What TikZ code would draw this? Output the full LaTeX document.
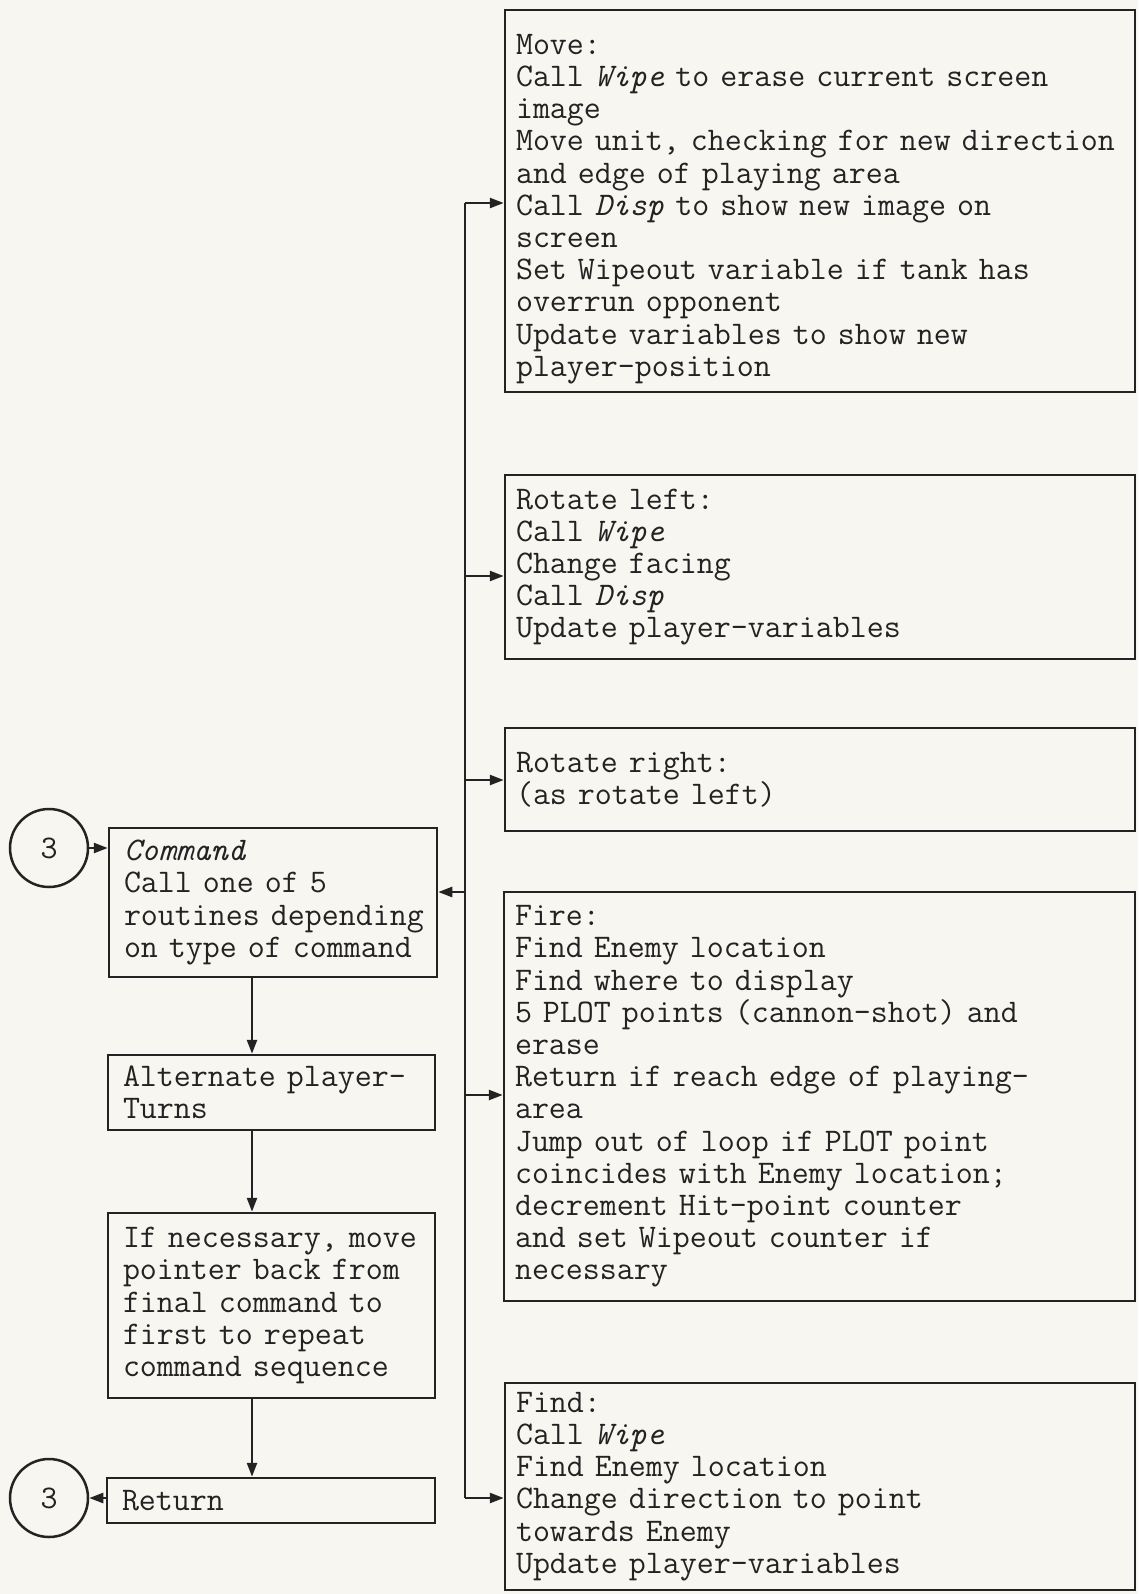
\documentclass[tikz,border=0pt]{standalone}
\usepackage{fontspec}
\usetikzlibrary{arrows.meta}
\definecolor{paper}{RGB}{248,246,240}
\definecolor{ink}{RGB}{35,35,35}
\newcommand\twfont{\ttfamily\fontsize{33}{32.2}\selectfont\addfontfeatures{FakeBold=0.5}}
\begin{document}
\begin{tikzpicture}[x=1pt,y=-1pt,
  box/.style={draw=ink, line width=2.5pt, rectangle, align=left, font=\twfont, text=ink, inner ysep=0pt, inner xsep=2pt},
  rbox/.style={box, execute at begin node={\leftskip=9pt\relax}},
  lbox/.style={box, execute at begin node={\leftskip=13pt\relax}},
  conn/.style={circle, draw=ink, line width=2.5pt, minimum size=78pt, inner sep=0pt, font=\twfont, text=ink},
  line/.style={draw=ink, line width=2.5pt},
  arr/.style={line, -{Triangle[length=14pt,width=10pt]}}]
\path[use as bounding box, fill=paper] (0,0) rectangle (1138,1594);

% right column
\node[rbox, minimum width=630pt, minimum height=382pt, text width=626pt] (move) at (820,201) {\rule{0pt}{36pt}Move:\\
Call \textit{Wipe} to erase current screen\\
image\\
Move unit, checking for new direction\\
and edge of playing area\\
Call \textit{Disp} to show new image on\\
screen\\
Set Wipeout variable if tank has\\
overrun opponent\\
Update variables to show new\\
player-position};

\node[rbox, minimum width=630pt, minimum height=184pt, text width=626pt] (rotl) at (820,567) {Rotate left:\\
Call \textit{Wipe}\\
Change facing\\
Call \textit{Disp}\\
Update player-variables};

\node[rbox, minimum width=630pt, minimum height=103pt, text width=626pt] (rotr) at (820,779.5) {Rotate right:\\
(as rotate left)};

\node[rbox, minimum width=631pt, minimum height=409pt, text width=627pt] (fire) at (819.5,1096.5) {Fire:\\
Find Enemy location\\
Find where to display\\
5 PLOT points (cannon-shot) and\\
erase\\
Return if reach edge of playing-\\
area\\
Jump out of loop if PLOT point\\
coincides with Enemy location;\\
decrement Hit-point counter\\
and set Wipeout counter if\\
necessary};

\node[rbox, minimum width=630pt, minimum height=207pt, text width=626pt] (find) at (820,1486.5) {Find:\\
Call \textit{Wipe}\\
Find Enemy location\\
Change direction to point\\
towards Enemy\\
Update player-variables};

% left column
\node[lbox, minimum width=328pt, minimum height=149pt, text width=324pt] (cmd) at (273,902.5) {\textit{Command}\\
Call one of 5\\
routines depending\\
on type of command};

\node[lbox, minimum width=327pt, minimum height=75pt, text width=323pt] (alt) at (271.5,1092.5) {Alternate player-\\
Turns};

\node[lbox, minimum width=327pt, minimum height=185pt, text width=323pt] (ifn) at (271.5,1305.5) {If necessary, move\\
pointer back from\\
final command to\\
first to repeat\\
command sequence};

\node[lbox, minimum width=328pt, minimum height=45pt, text width=324pt] (ret) at (271,1500.5) {Return};

\node[conn] (c1) at (49,848) {3};
\node[conn] (c2) at (49,1498) {3};

% connectors, left column
\coordinate (vx) at (252,0);
\draw[arr] (c1.east) -- (c1.east -| cmd.west);
\draw[arr] (cmd.south -| vx) -- (alt.north -| vx);
\draw[arr] (alt.south -| vx) -- (ifn.north -| vx);
\draw[arr] (ifn.south -| vx) -- (ret.north -| vx);
\draw[arr] (c2.east -| ret.west) -- (c2.east);

% bus
\coordinate (b1) at (465,203);
\coordinate (b2) at (465,576);
\coordinate (b3) at (465,780);
\coordinate (bc) at (465,892);
\coordinate (b4) at (465,1095);
\coordinate (b5) at (465,1498);
\draw[line] (b1) -- (b5);
\draw[arr] (b1) -- (b1 -| move.west);
\draw[arr] (b2) -- (b2 -| rotl.west);
\draw[arr] (b3) -- (b3 -| rotr.west);
\draw[arr] (b4) -- (b4 -| fire.west);
\draw[arr] (b5) -- (b5 -| find.west);
\draw[arr] (bc) -- (bc -| cmd.east);
\end{tikzpicture}
\end{document}
